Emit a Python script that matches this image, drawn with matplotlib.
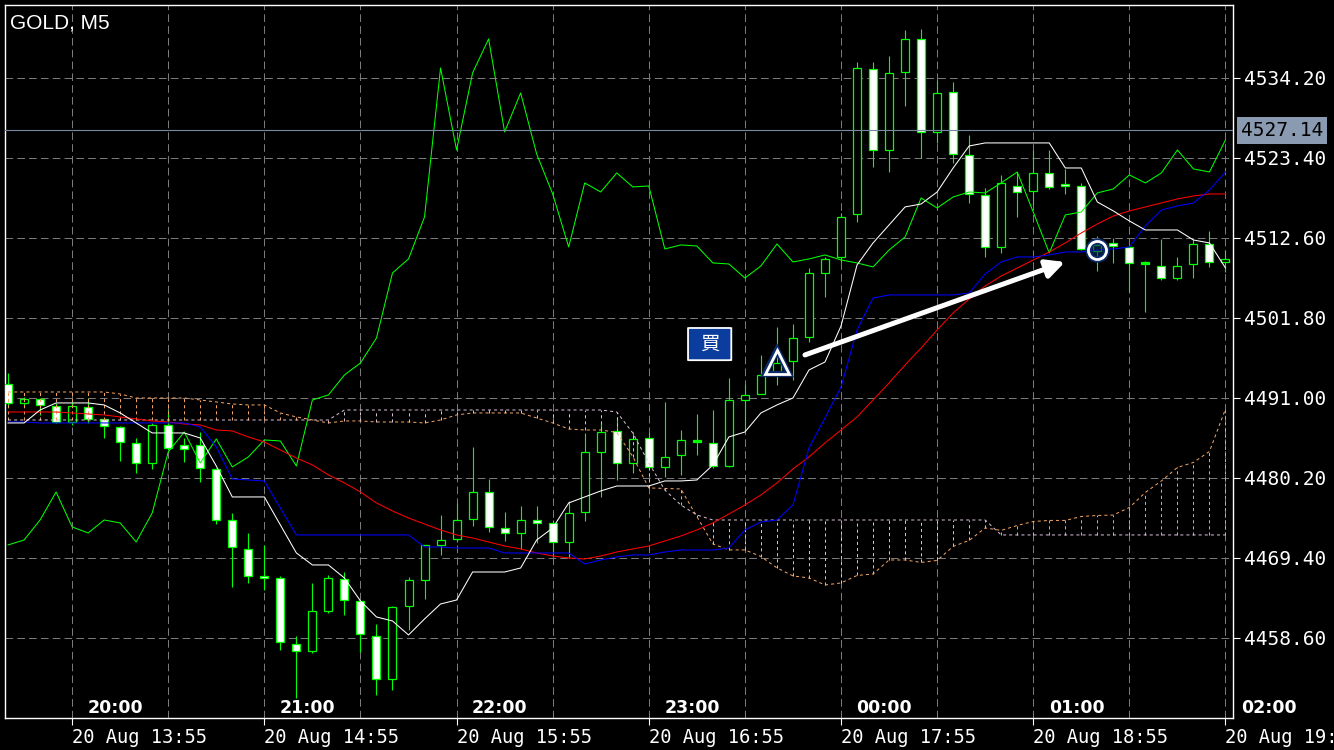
import numpy as np
import matplotlib.pyplot as plt
from matplotlib.patches import Rectangle, FancyBboxPatch
import matplotlib.transforms as mtransforms

plt.rcParams['lines.scale_dashes'] = False

title = "GOLD, M5"

# 5 minute bars, 20 Aug 13:35 .. 19:55 (index 0 .. 76)
open_ = [4492.89, 4490.33, 4490.87, 4489.92, 4487.76, 4489.79, 4488.17, 4487.09, 4484.93, 4482.23,
         4487.36, 4484.66, 4484.66, 4481.42, 4474.53, 4470.62, 4466.97, 4466.70, 4457.79, 4456.85,
         4462.25, 4466.57, 4463.60, 4458.87, 4453.07, 4462.92, 4466.43, 4471.16, 4471.97, 4474.67,
         4478.31, 4473.45, 4472.78, 4474.53, 4474.13, 4471.56, 4475.61, 4483.71, 4486.55, 4482.23,
         4485.60, 4481.69, 4483.31, 4485.06, 4484.93, 4481.82, 4490.73, 4491.54, 4494.24, 4496.00,
         4499.24, 4507.88, 4510.04, 4515.84, 4535.42, 4524.48, 4535.01, 4539.47, 4526.91, 4532.31,
         4523.81, 4518.41, 4511.39, 4519.62, 4518.95, 4521.38, 4519.89, 4519.62, 4510.85, 4511.93,
         4511.39, 4509.23, 4508.82, 4507.20, 4509.09, 4511.79, 4509.36]
high = [4494.38, 4491.14, 4491.00, 4490.33, 4490.46, 4491.00, 4488.30, 4487.22, 4485.60, 4487.63,
        4489.38, 4485.60, 4486.41, 4481.55, 4475.48, 4472.78, 4471.16, 4466.97, 4458.87, 4466.03,
        4467.11, 4467.51, 4463.73, 4460.49, 4462.92, 4466.84, 4471.16, 4475.21, 4476.83, 4484.39,
        4480.07, 4475.61, 4476.42, 4476.42, 4474.53, 4477.10, 4486.28, 4487.63, 4488.30, 4486.41,
        4486.41, 4490.46, 4486.68, 4488.84, 4489.38, 4493.70, 4492.89, 4496.81, 4500.59, 4500.99,
        4508.55, 4510.04, 4515.98, 4536.36, 4536.36, 4537.17, 4540.68, 4540.82, 4533.93, 4533.66,
        4526.51, 4519.35, 4521.11, 4521.51, 4524.48, 4524.48, 4521.92, 4520.03, 4512.87, 4512.60,
        4511.52, 4509.50, 4512.47, 4510.04, 4512.47, 4513.55, 4510.98]
low = [4489.92, 4489.79, 4488.71, 4487.63, 4487.36, 4487.63, 4485.60, 4482.50, 4480.88, 4481.42,
       4483.98, 4482.36, 4479.66, 4473.99, 4465.49, 4466.03, 4465.08, 4456.98, 4450.50, 4456.58,
       4461.98, 4461.71, 4456.71, 4450.91, 4451.58, 4459.68, 4463.87, 4469.81, 4471.56, 4473.72,
       4472.91, 4471.70, 4470.62, 4471.43, 4469.54, 4469.40, 4474.40, 4477.64, 4479.93, 4480.88,
       4481.28, 4480.34, 4480.61, 4483.31, 4481.55, 4481.69, 4486.41, 4491.54, 4492.76, 4493.43,
       4498.56, 4504.64, 4509.36, 4514.76, 4522.19, 4521.51, 4530.42, 4523.40, 4525.43, 4522.73,
       4517.33, 4510.04, 4510.58, 4515.44, 4517.06, 4519.22, 4518.54, 4510.98, 4508.15, 4509.23,
       4505.31, 4502.61, 4506.93, 4506.93, 4507.20, 4508.69, 4508.01]
close = [4490.33, 4490.87, 4490.06, 4487.76, 4489.92, 4488.17, 4487.22, 4485.06, 4482.23, 4487.36,
         4484.25, 4484.12, 4481.55, 4474.53, 4470.89, 4466.97, 4466.70, 4458.06, 4456.85, 4462.25,
         4466.70, 4463.73, 4459.14, 4453.07, 4462.79, 4466.43, 4471.16, 4471.83, 4474.53, 4478.31,
         4473.59, 4472.78, 4474.53, 4474.13, 4471.56, 4475.48, 4483.71, 4486.41, 4482.23, 4485.47,
         4481.69, 4483.04, 4485.33, 4485.20, 4481.82, 4490.73, 4491.41, 4494.11, 4495.73, 4499.10,
         4507.88, 4509.77, 4515.44, 4535.55, 4524.48, 4534.88, 4539.47, 4526.91, 4532.18, 4523.94,
         4518.54, 4511.39, 4520.03, 4518.81, 4521.38, 4519.49, 4519.62, 4511.12, 4511.66, 4511.52,
         4509.23, 4509.09, 4507.20, 4508.82, 4511.79, 4509.36, 4509.77]
# closes of the 26 bars after the visible window (chikou span runs into them)
future_close = [4510.31, 4509.63, 4509.23, 4508.69, 4510.98, 4512.74, 4518.00, 4516.65, 4518.14, 4518.81,
                4518.68, 4520.03, 4521.51, 4516.11, 4510.58, 4515.71, 4516.11, 4518.68, 4519.22, 4521.11,
                4520.03, 4521.38, 4524.48, 4521.92, 4521.51, 4525.83]

tenkan = [4487.63, 4487.63, 4489.38, 4490.33, 4490.33, 4490.33, 4490.06, 4488.98, 4487.63, 4486.28,
          4486.28, 4486.28, 4485.60, 4481.82, 4477.64, 4477.64, 4477.64, 4473.86, 4470.08, 4468.46,
          4468.46, 4466.70, 4463.60, 4461.44, 4460.90, 4459.01, 4461.17, 4463.19, 4463.73, 4467.51,
          4467.51, 4467.51, 4468.05, 4471.83, 4473.45, 4476.83, 4477.64, 4478.45, 4479.12, 4479.12,
          4479.12, 4479.80, 4479.80, 4479.93, 4481.96, 4485.74, 4486.41, 4488.98, 4490.06, 4491.00,
          4494.78, 4495.86, 4500.72, 4508.96, 4511.93, 4514.36, 4516.79, 4517.19, 4518.81, 4522.05,
          4525.02, 4525.43, 4525.43, 4525.43, 4525.43, 4525.43, 4522.05, 4522.05, 4517.46, 4516.25,
          4514.90, 4513.68, 4513.68, 4513.68, 4512.33, 4511.93, 4508.55]
kijun = [4487.76, 4487.76, 4487.63, 4487.63, 4487.63, 4487.63, 4487.63, 4487.63, 4487.63, 4487.63,
         4487.63, 4487.63, 4487.09, 4484.39, 4480.07, 4479.93, 4479.80, 4476.15, 4472.51, 4472.51,
         4472.51, 4472.51, 4472.51, 4472.51, 4472.51, 4472.51, 4470.89, 4470.89, 4470.75, 4470.75,
         4470.75, 4470.08, 4470.08, 4470.08, 4470.08, 4470.08, 4468.59, 4469.13, 4469.54, 4469.81,
         4469.81, 4470.21, 4470.48, 4470.48, 4470.48, 4470.75, 4473.18, 4474.26, 4474.53, 4476.56,
         4484.25, 4488.30, 4492.49, 4500.18, 4504.50, 4504.91, 4504.91, 4504.91, 4504.91, 4504.91,
         4505.18, 4507.74, 4509.36, 4510.04, 4510.04, 4510.31, 4510.71, 4510.71, 4510.98, 4511.12,
         4511.39, 4514.22, 4516.38, 4516.92, 4517.33, 4519.08, 4521.51]
ma_red = [4489.11, 4489.11, 4489.11, 4489.11, 4488.98, 4488.84, 4488.71, 4488.44, 4488.17, 4487.90,
          4487.76, 4487.49, 4487.36, 4486.68, 4486.55, 4485.74, 4485.06, 4483.98, 4482.90, 4481.96,
          4480.61, 4479.53, 4478.31, 4476.83, 4475.75, 4474.80, 4473.99, 4473.18, 4472.51, 4472.10,
          4471.56, 4471.02, 4470.62, 4470.08, 4469.67, 4469.40, 4469.27, 4469.67, 4470.21, 4470.62,
          4471.02, 4471.70, 4472.37, 4473.18, 4474.13, 4475.34, 4476.56, 4477.91, 4479.53, 4481.42,
          4483.04, 4484.93, 4486.68, 4488.44, 4490.73, 4493.03, 4495.46, 4497.75, 4500.18, 4502.48,
          4504.37, 4506.12, 4507.47, 4508.55, 4509.63, 4510.71, 4511.93, 4513.28, 4514.49, 4515.57,
          4516.25, 4516.79, 4517.33, 4517.87, 4518.27, 4518.54, 4518.54]
span_a = [4491.81, 4491.81, 4491.81, 4491.81, 4491.81, 4491.81, 4491.81, 4491.54, 4491.00, 4491.00,
          4491.00, 4491.00, 4490.73, 4490.46, 4490.19, 4490.06, 4490.06, 4488.98, 4488.44, 4488.03,
          4487.63, 4487.90, 4487.90, 4487.76, 4487.76, 4487.76, 4487.63, 4488.03, 4488.71, 4488.98,
          4488.98, 4488.98, 4488.98, 4488.30, 4487.63, 4486.82, 4486.68, 4486.68, 4486.35, 4483.10,
          4478.86, 4478.79, 4478.72, 4475.00, 4471.30, 4470.49, 4470.49, 4469.60, 4468.06, 4466.98,
          4466.70, 4465.76, 4466.03, 4467.04, 4467.24, 4469.13, 4469.13, 4468.80, 4469.07, 4470.96,
          4471.77, 4473.46, 4473.12, 4473.79, 4474.33, 4474.47, 4474.47, 4475.00, 4475.14, 4475.20,
          4476.22, 4478.25, 4479.80, 4481.62, 4482.30, 4483.78, 4489.50]
span_b = [4488.03] * 21 + [4489.38] * 17 + [4489.11, 4486.28, 4482.23, 4478.58, 4476.56, 4475.21] \
         + [4474.53] * 18 + [4472.51] * 15

price_ticks = [4458.60, 4469.40, 4480.20, 4491.00, 4501.80, 4512.60, 4523.40, 4534.20]
current_price = 4527.14
date_bars = [4, 16, 28, 40, 52, 64, 76]
date_labels = ["20 Aug 13:55", "20 Aug 14:55", "20 Aug 15:55", "20 Aug 16:55",
               "20 Aug 17:55", "20 Aug 18:55", "20 Aug 19:55"]
hour_labels = ["20:00", "21:00", "22:00", "23:00", "00:00", "01:00", "02:00"]
grid_bars = list(range(4, 77, 6))

buy_bar, buy_price = 48, 4495.86
exit_bar, exit_price = 68, 4510.98
arrow_from = (49.75, 4496.81)
arrow_to = (65.98, 4509.36)

LIME = '#00ff00'
GRID = '#7a7a7a'

fig = plt.figure(figsize=(13.34, 7.5), dpi=100, facecolor='black')
ax = fig.add_axes([5 / 1334, 32 / 750, 1228 / 1334, 713 / 750])
ax.set_facecolor('black')
n = len(close)
x = np.arange(n)
ax.set_xlim(-0.19, 76.47)
ax.set_ylim(4447.80, 4544.05)

# grid
for p in price_ticks:
    ax.axhline(p, color=GRID, lw=0.72, dashes=(5.5, 3.0), zorder=1)
for b in grid_bars:
    ax.axvline(b, color=GRID, lw=0.72, dashes=(5.5, 3.0), zorder=1)

# candles
for i in range(n):
    o, h, l, c = open_[i], high[i], low[i], close[i]
    ax.vlines(i, l, h, color=LIME, lw=0.8, zorder=2)
    bottom = min(o, c)
    height = max(abs(c - o), 0.27)
    fc = 'white' if c < o else 'black'
    if abs(c - o) < 0.2:
        fc = LIME
    ax.add_patch(Rectangle((i - 0.25, bottom), 0.5, height, facecolor=fc,
                           edgecolor=LIME, lw=0.9, zorder=3))

# ichimoku cloud
sa = np.array(span_a)
sb = np.array(span_b)
for i in range(n):
    col = '#f4a460' if sa[i] >= sb[i] else '#d8bfd8'
    ax.vlines(i, min(sa[i], sb[i]), max(sa[i], sb[i]), color=col, lw=0.72,
              linestyles=[(0, (2.2, 2.2))], zorder=4)
ax.plot(x, sa, color='#f4a460', lw=0.72, dashes=(2.2, 2.2), zorder=4)
ax.plot(x, sb, color='#d8bfd8', lw=0.72, dashes=(2.2, 2.2), zorder=4)

# lines
chikou = list(close[26:]) + future_close
ax.plot(x, chikou, color=LIME, lw=0.75, zorder=5)
ax.plot(x, ma_red, color='#ff0000', lw=0.75, zorder=5)
ax.plot(x, kijun, color='#0000ff', lw=0.75, zorder=5)
ax.plot(x, tenkan, color='white', lw=0.75, zorder=5)

# current price line
ax.axhline(current_price, color='#7888a0', lw=0.8, zorder=5)

# trade markers
ax.plot(buy_bar, buy_price, marker='^', ms=17, mfc='none', mec='#0a2a6a', mew=4.5, zorder=7)
ax.plot(buy_bar, buy_price, marker='^', ms=17, mfc='none', mec='white', mew=2.0, zorder=8)
ax.plot(exit_bar, exit_price, marker='o', ms=13, mfc='#0a2a6a', alpha=0.55, mec='none', zorder=7)
ax.plot(exit_bar, exit_price, marker='o', ms=13, mfc='none', mec='#0a2a6a', mew=4.5, zorder=7)
ax.plot(exit_bar, exit_price, marker='o', ms=13, mfc='none', mec='white', mew=2.0, zorder=8)
ax.annotate('', xy=arrow_to, xytext=arrow_from, zorder=9,
            arrowprops=dict(arrowstyle='-|>,head_length=1.1,head_width=0.55',
                            color='white', lw=3.6, shrinkA=0, shrinkB=0))

# buy label box
box = FancyBboxPatch((42.45, 4496.1), 2.7, 4.35, boxstyle='round,pad=0,rounding_size=0.15',
                     facecolor='#0b3d9e', edgecolor='white', lw=1.3, zorder=9,
                     mutation_aspect=0.2)
ax.add_patch(box)
ax.text(43.8, 4498.3, '買', color='white', fontsize=14, ha='center', va='center',
        family=['Noto Sans CJK JP', 'DejaVu Sans'], zorder=10)

# frame
for s in ax.spines.values():
    s.set_color('white')
    s.set_linewidth(1.0)

# y axis on the right
ax.yaxis.tick_right()
ax.set_yticks(price_ticks)
ax.set_yticklabels([f"{p:.2f}" for p in price_ticks])
ax.tick_params(axis='y', colors='white', length=5, width=0.8, pad=3, labelsize=14,
               labelcolor='white')
for t in ax.get_yticklabels():
    t.set_family('DejaVu Sans Mono')

# x axis dates
ax.set_xticks(date_bars)
ax.set_xticklabels(date_labels)
ax.tick_params(axis='x', colors='white', length=5, width=0.8, pad=2, labelsize=13.5,
               labelcolor='white')
for t in ax.get_xticklabels():
    t.set_family('DejaVu Sans Mono')
    t.set_ha('left')

# hour labels inside the chart bottom
trans = mtransforms.blended_transform_factory(ax.transData, ax.transAxes)
for b, lab in zip(date_bars, hour_labels):
    ax.text(b + 2.7, 0.0145, lab, transform=trans, color='white', fontsize=12.5,
            fontweight='bold', ha='center', va='center', clip_on=False, zorder=10)

# current price tag
tag_trans = mtransforms.blended_transform_factory(ax.transAxes, ax.transData) + \
    mtransforms.ScaledTranslation(8 / 100, 0, fig.dpi_scale_trans)
ax.text(1.0, current_price, f"{current_price:.2f}", transform=tag_trans,
        color='black', fontsize=14, family='DejaVu Sans Mono', ha='left', va='center',
        clip_on=False, zorder=10,
        bbox=dict(boxstyle='square,pad=0.2', facecolor='#8a9ab0', edgecolor='none'))

ax.text(0.004, 0.988, title, transform=ax.transAxes, color='white', fontsize=15,
        family='Liberation Sans', ha='left', va='top')

fig.savefig('out.png', dpi=100, facecolor='black')
